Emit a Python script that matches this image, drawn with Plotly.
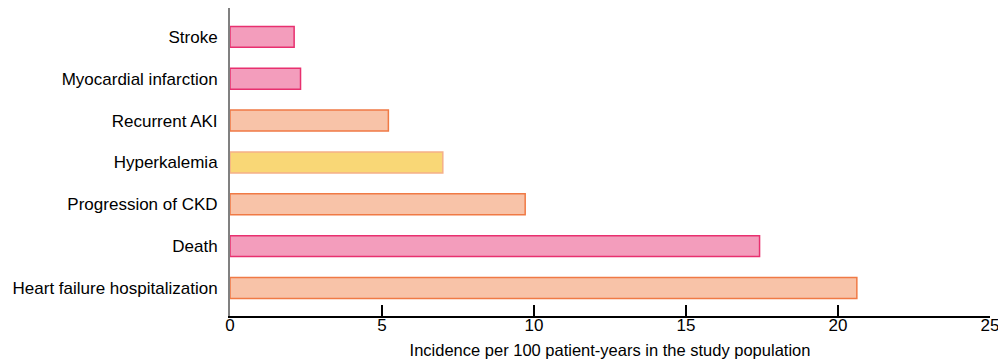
import plotly.graph_objects as go

categories = ["Heart failure hospitalization", "Death", "Progression of CKD",
              "Hyperkalemia", "Recurrent AKI", "Myocardial infarction", "Stroke"]
values = [20.62, 17.42, 9.71, 7.0, 5.21, 2.32, 2.11]
fill_colors = ["#F8C3A8", "#F39DBC", "#F8C3A8", "#F9D776", "#F8C3A8", "#F39DBC", "#F39DBC"]
line_colors = ["#F07A45", "#E8306F", "#F07A45", "#F5B088", "#F07A45", "#E8306F", "#E8306F"]
x_ticks = [0, 5, 10, 15, 20, 25]

fig = go.Figure(go.Bar(
    x=values, y=categories, orientation="h",
    marker=dict(color=fill_colors, line=dict(color=line_colors, width=1.5)),
    width=0.5,
))

fig.update_layout(
    width=998, height=364,
    margin=dict(l=230, r=8, t=8, b=48, autoexpand=False),
    paper_bgcolor="white", plot_bgcolor="white",
    font=dict(family="Liberation Sans, Arial, sans-serif", size=17, color="#000000"),
    showlegend=False,
)
fig.update_xaxes(
    range=[0, 25], tickvals=x_ticks, ticks="inside", ticklen=11, tickwidth=2,
    tickcolor="#000000", showline=True, linecolor="#000000", linewidth=1.5,
    showgrid=False, zeroline=False, automargin=False,
    title=dict(text="Incidence per 100 patient-years in the study population",
               font=dict(size=16.5), standoff=10),
    tickfont=dict(size=17), ticklabelstandoff=-7, ticklabeloverflow="allow",
)
fig.update_yaxes(
    range=[-0.67, 6.69], showline=True, linecolor="#808080", linewidth=2,
    ticks="", showgrid=False, zeroline=False, tickfont=dict(size=17),
    automargin=False, ticklabelstandoff=7,
)

fig.write_html(
    "out.html",
    config={"displayModeBar": False},
    post_script="document.body.style.margin='0';document.body.style.overflow='hidden';",
)
